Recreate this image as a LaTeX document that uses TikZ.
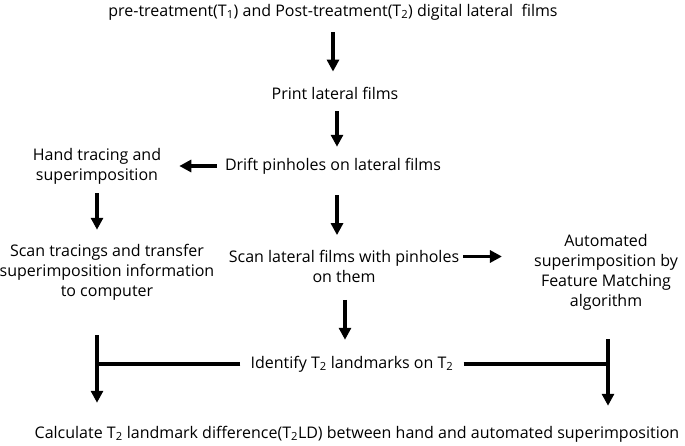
\documentclass[tikz,border=0pt]{standalone}
\usepackage{fontspec}
\setmainfont{Open Sans}
\usepackage{tikz}
\usetikzlibrary{arrows.meta}

\tikzset{
  arr/.style={line width=3.1pt, -{Triangle[width=12pt,length=12pt]}},
  bar/.style={line width=3.1pt}
}

\begin{document}
\begin{tikzpicture}[x=1pt, y=-1pt, every node/.style={font=\fontsize{16}{20}\selectfont, inner sep=0pt, align=center}]
  \useasboundingbox (0,0) rectangle (685,446);

  % main column
  \node (films) at (333,12) {pre-treatment(T\textsubscript{1}) and Post-treatment(T\textsubscript{2}) digital lateral\ \ films};
  \node (print) at (335,93) {Print lateral films};
  \node (drift) at (333,166) {Drift pinholes on lateral films};
  \node (scan) at (344,266.5) {Scan lateral films with pinholes\\on them};
  \node (identify) at (352,364) {Identify T\textsubscript{2} landmarks on T\textsubscript{2}};
  \node (calc) at (357,434) {Calculate T\textsubscript{2} landmark difference(T\textsubscript{2}LD) between hand and automated superimposition};

  % side branches
  \node (hand) at (97,166) {Hand tracing and\\superimposition};
  \node (tracing) at (107,272) {Scan tracings and transfer\\superimposition information\\to computer};
  \node (auto) at (606,272) {Automated\\superimposition by\\Feature Matching\\algorithm};

  \coordinate (lt) at (97,335);
  \coordinate (rt) at (608,339);

  % arrows
  \draw[arr, shorten <=12pt, shorten >=15pt] (films.south) -- (films.south |- print.north);
  \draw[arr, shorten <=12pt, shorten >=11pt] ([xshift=2pt]print.south) -- ([xshift=2pt]print.south |- drift.north);
  \draw[arr, shorten <=8pt, shorten >=18pt] (drift.west) -- (drift.west -| hand.east);
  \draw[arr, shorten <=21pt, shorten >=15pt] ([xshift=4pt]drift.south) -- ([xshift=4pt]drift.south |- scan.north);
  \draw[arr, shorten <=9pt, shorten >=14pt] (hand.south) -- (hand.south |- tracing.north);
  \draw[arr, shorten <=4pt, shorten >=32pt] ([yshift=10pt]scan.east) -- ([yshift=10pt]scan.east -| auto.west);
  \draw[arr, shorten <=17pt, shorten >=16pt] ([xshift=1pt]scan.south) -- ([xshift=1pt]scan.south |- identify.north);

  % identify splits to both sides
  \draw[bar, shorten <=10pt] (identify.west) -- (identify.west -| lt);
  \draw[bar, shorten <=10pt] (identify.east) -- (identify.east -| rt);
  \draw[arr, shorten >=23pt] (lt) -- (lt |- calc.north);
  \draw[arr, shorten >=20pt] (rt) -- (rt |- calc.north);
\end{tikzpicture}
\end{document}
